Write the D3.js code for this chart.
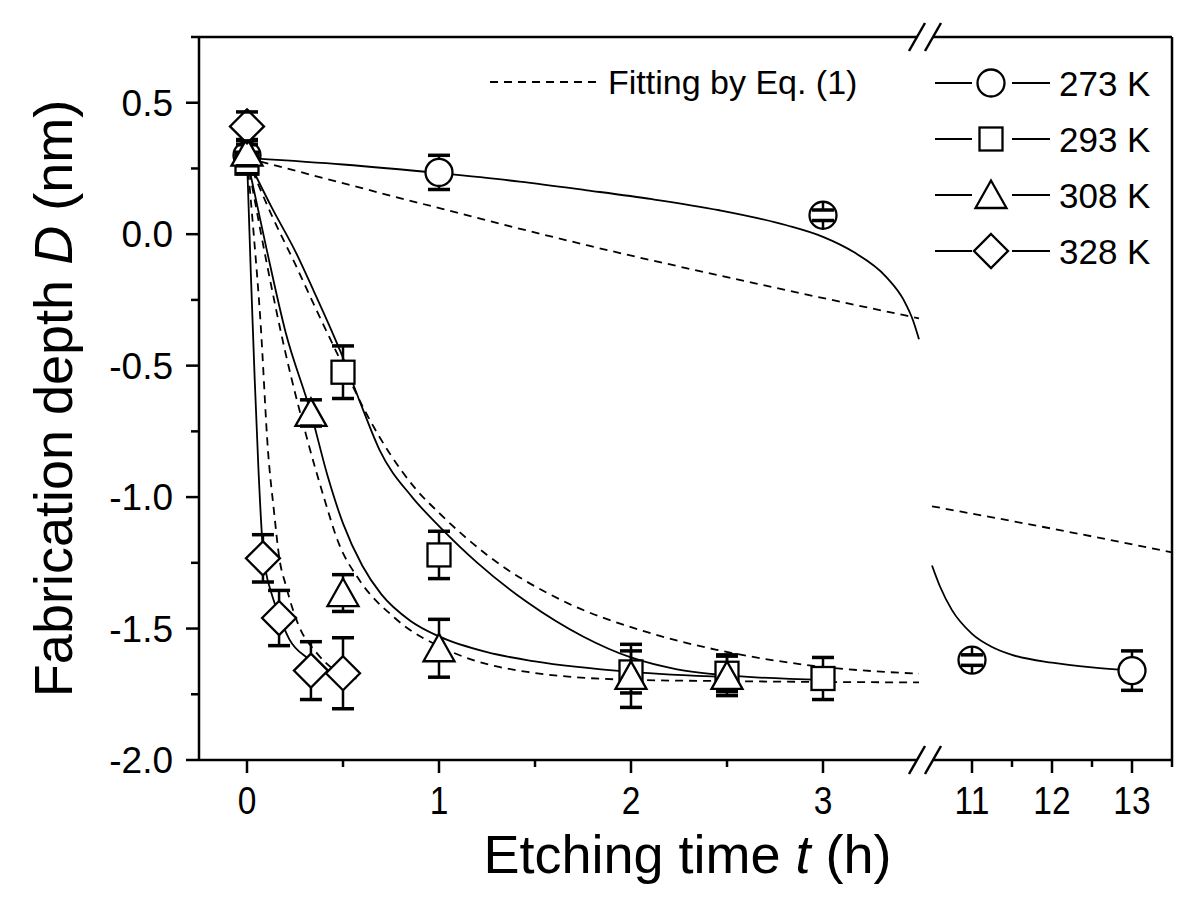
<!DOCTYPE html>
<html>
<head>
<meta charset="utf-8">
<script src="https://d3js.org/d3.v7.min.js"></script>
<style>
    html, body { margin: 0; padding: 0; background: #fff; overflow: hidden; }
    text { font-family: "Liberation Sans", Arial, sans-serif; fill: #000; }
</style>
</head>
<body>
<svg id="chart" width="1200" height="924"></svg>
<script>
// ---- data ----
var temps = ["273 K", "293 K", "308 K", "328 K"];
var symbols = ["circle", "square", "triangle", "diamond"];

var t273 = [0, 1, 3, 11, 13];
var d273 = [0.30, 0.235, 0.072, -1.62, -1.66];
var e273 = [0.04, 0.065, 0.02, 0.02, 0.075];

var t293 = [0, 0.5, 1, 2, 2.5, 3];
var d293 = [0.27, -0.525, -1.22, -1.665, -1.67, -1.69];
var e293 = [0.04, 0.10, 0.09, 0.08, 0.07, 0.08];

var t308 = [0, 0.333, 0.5, 1, 2, 2.5];
var d308 = [0.31, -0.68, -1.365, -1.575, -1.68, -1.68];
var e308 = [0.05, 0.05, 0.07, 0.11, 0.12, 0.075];

var t328 = [0, 0.083, 0.167, 0.333, 0.5];
var d328 = [0.41, -1.233, -1.46, -1.66, -1.67];
var e328 = [0.055, 0.09, 0.105, 0.11, 0.135];

// guide curves (solid) and Eq. (1) fits (dashed), [t, D]
var solid273a = [[0,0.29],[0.5,0.265],[1,0.232],[1.42,0.20],[1.77,0.167],[2.11,0.133],[2.46,0.091],[2.81,0.034],[3.0,-0.01],[3.16,-0.068],[3.33,-0.163],[3.42,-0.25],[3.47,-0.33],[3.5,-0.40]];
var solid273b = [[10.5,-1.26],[10.6,-1.34],[10.75,-1.43],[11,-1.52],[11.25,-1.57],[11.5,-1.60],[12,-1.63],[12.5,-1.648],[13,-1.66]];
var fit273a = [[0,0.29],[0.9,0.118],[1.77,-0.042],[2.64,-0.186],[3.5,-0.32]];
var fit273b = [[10.5,-1.035],[12,-1.12],[13.5,-1.21]];

var solid293 = [[0,0.29],[0.13,0.10],[0.255,-0.07],[0.35,-0.22],[0.43,-0.35],[0.5,-0.47],[0.6,-0.66],[0.69,-0.82],[0.86,-1.0],[1.0,-1.11],[1.2,-1.25],[1.46,-1.40],[1.75,-1.53],[2.0,-1.61],[2.24,-1.655],[2.54,-1.68],[3.0,-1.695]];
var fit293 = [[0,0.29],[0.13,0.07],[0.255,-0.12],[0.35,-0.27],[0.5,-0.50],[0.62,-0.68],[0.74,-0.83],[0.88,-0.97],[1.0,-1.06],[1.25,-1.22],[1.66,-1.40],[2.05,-1.506],[2.44,-1.58],[2.93,-1.64],[3.5,-1.672]];

var solid308 = [[0,0.29],[0.1,-0.05],[0.2,-0.37],[0.333,-0.68],[0.42,-0.92],[0.5,-1.10],[0.6,-1.26],[0.7,-1.37],[0.85,-1.47],[1.0,-1.53],[1.25,-1.59],[1.5,-1.625],[2.0,-1.665],[2.5,-1.685]];
var fit308 = [[0,0.29],[0.1,-0.10],[0.2,-0.45],[0.31,-0.77],[0.4,-1.0],[0.48,-1.18],[0.58,-1.31],[0.77,-1.46],[1.07,-1.59],[1.46,-1.665],[2.0,-1.695],[2.5,-1.70],[3.5,-1.705]];

var solid328 = [[0,0.29],[0.02,-0.15],[0.04,-0.55],[0.06,-0.9],[0.083,-1.2],[0.1,-1.29],[0.125,-1.36],[0.167,-1.45],[0.22,-1.54],[0.32,-1.615],[0.43,-1.665],[0.55,-1.70]];
var fit328 = [[0,0.29],[0.035,0.0],[0.07,-0.33],[0.11,-0.83],[0.14,-1.05],[0.17,-1.24],[0.2,-1.33],[0.27,-1.49],[0.36,-1.59],[0.46,-1.66],[0.57,-1.69]];

var xTicksL = [0, 1, 2, 3];
var xMinorL = [0.5, 1.5, 2.5];
var xTicksR = [11, 12, 13];
var xMinorR = [11.5, 12.5, 13.5];
var yTicks = [-2.0, -1.5, -1.0, -0.5, 0.0, 0.5];
var yMinor = [-1.75, -1.25, -0.75, -0.25, 0.25, 0.75];

// ---- layout ----
var svg = d3.select("#chart");
var pL = 199, pR = 1172, pT = 37, pB = 760;

var xL = d3.scaleLinear().domain([-0.25, 3.5]).range([pL, 919]);
var xR = d3.scaleLinear().domain([10.5, 13.5]).range([932, pR]);
function x(t) { return t < 5 ? xL(t) : xR(t); }
var y = d3.scaleLinear().domain([-2, 0.75]).range([pB, pT]);

var line = d3.line()
    .x(function(d) { return x(d[0]); })
    .y(function(d) { return y(d[1]); })
    .curve(d3.curveMonotoneX);

// curves
var curves = svg.append("g").attr("fill", "none").attr("stroke", "#000").attr("stroke-width", 1.8);
[solid273a, solid273b, solid293, solid308, solid328].forEach(function(c) {
    curves.append("path").attr("d", line(c));
});
[fit273a, fit273b, fit293, fit308, fit328].forEach(function(c) {
    curves.append("path").attr("d", line(c)).attr("stroke-dasharray", "8,6");
});

// markers
var half = { circle: 13.5, square: 11.5, triangle: 13.5, diamond: 17 };
function marker(g, type, cx, cy) {
    var m;
    if (type === "circle") {
        m = g.append("circle").attr("cx", cx).attr("cy", cy).attr("r", 13.5);
    } else if (type === "square") {
        m = g.append("rect").attr("x", cx - 11.5).attr("y", cy - 11.5).attr("width", 23).attr("height", 23);
    } else if (type === "triangle") {
        m = g.append("polygon").attr("points", [[cx, cy - 14.5], [cx - 15.5, cy + 13], [cx + 15.5, cy + 13]].join(" "));
    } else {
        m = g.append("polygon").attr("points", [[cx, cy - 17], [cx + 17, cy], [cx, cy + 17], [cx - 17, cy]].join(" "));
    }
    return m.attr("fill", "#fff").attr("stroke", "#000").attr("stroke-width", 2.3);
}

var series = [
    { t: t273, d: d273, e: e273 },
    { t: t293, d: d293, e: e293 },
    { t: t308, d: d308, e: e308 },
    { t: t328, d: d328, e: e328 }
];

var marks = svg.append("g");
series.forEach(function(s, i) {
    var type = symbols[i];
    s.t.forEach(function(t, j) {
        var cx = x(t), cy = y(s.d[j]);
        marker(marks, type, cx, cy);
        var h = half[type];
        var yt = y(s.d[j] + s.e[j]), yb = y(s.d[j] - s.e[j]);
        var eb = marks.append("g").attr("stroke", "#000");
        eb.append("line").attr("x1", cx).attr("x2", cx).attr("y1", cy - h).attr("y2", yt).attr("stroke-width", 2.5);
        eb.append("line").attr("x1", cx).attr("x2", cx).attr("y1", cy + h).attr("y2", yb).attr("stroke-width", 2.5);
        eb.append("line").attr("x1", cx - 11).attr("x2", cx + 11).attr("y1", yt).attr("y2", yt).attr("stroke-width", 3.5);
        eb.append("line").attr("x1", cx - 11).attr("x2", cx + 11).attr("y1", yb).attr("y2", yb).attr("stroke-width", 3.5);
    });
});

// frame with axis break
var frame = svg.append("g").attr("stroke", "#000").attr("stroke-width", 2.5).attr("fill", "none");
var bx1 = xL(3.5) - 2, bx2 = xR(10.5) + 1;
frame.append("line").attr("x1", pL).attr("x2", pL).attr("y1", pT).attr("y2", pB);
frame.append("line").attr("x1", pR).attr("x2", pR).attr("y1", pT).attr("y2", pB);
[pT, pB].forEach(function(yy) {
    frame.append("line").attr("x1", pL).attr("x2", bx1).attr("y1", yy).attr("y2", yy);
    frame.append("line").attr("x1", bx2).attr("x2", pR).attr("y1", yy).attr("y2", yy);
    [bx1, bx2].forEach(function(bx) {
        frame.append("line").attr("x1", bx - 8).attr("x2", bx + 8).attr("y1", yy + 14).attr("y2", yy - 14);
    });
});

// ticks
var ticks = svg.append("g").attr("stroke", "#000").attr("stroke-width", 2.5);
xTicksL.forEach(function(t) { ticks.append("line").attr("x1", xL(t)).attr("x2", xL(t)).attr("y1", pB).attr("y2", pB + 13); });
xTicksR.forEach(function(t) { ticks.append("line").attr("x1", xR(t)).attr("x2", xR(t)).attr("y1", pB).attr("y2", pB + 13); });
xMinorL.forEach(function(t) { ticks.append("line").attr("x1", xL(t)).attr("x2", xL(t)).attr("y1", pB).attr("y2", pB + 7); });
xMinorR.forEach(function(t) { ticks.append("line").attr("x1", xR(t)).attr("x2", xR(t)).attr("y1", pB).attr("y2", pB + 7); });
yTicks.forEach(function(v) { ticks.append("line").attr("x1", pL - 13).attr("x2", pL).attr("y1", y(v)).attr("y2", y(v)); });
yMinor.forEach(function(v) { ticks.append("line").attr("x1", pL - 8).attr("x2", pL).attr("y1", y(v)).attr("y2", y(v)); });

// tick labels
var labels = svg.append("g");
function xLabel(px, t) {
    labels.append("text")
        .attr("transform", "translate(" + px + ",814) scale(0.86,1)")
        .attr("text-anchor", "middle").attr("font-size", 39).text(t);
}
xTicksL.forEach(function(t) { xLabel(xL(t), t); });
xTicksR.forEach(function(t) { xLabel(xR(t), t); });
yTicks.forEach(function(v) {
    labels.append("text").attr("x", 173).attr("y", y(v) + 13).attr("text-anchor", "end")
        .attr("font-size", 37).text(v.toFixed(1));
});

// axis titles
svg.append("text")
    .attr("transform", "translate(72," + ((pT + pB) / 2) + ") rotate(-90)")
    .attr("text-anchor", "middle").attr("font-size", 54)
    .html('Fabrication depth <tspan font-style="italic">D</tspan> (nm)');
svg.append("text")
    .attr("x", (pL + pR) / 2 + 2).attr("y", 873)
    .attr("text-anchor", "middle").attr("font-size", 54)
    .html('Etching time <tspan font-style="italic">t</tspan> (h)');

// legend
var leg = svg.append("g");
leg.append("line").attr("x1", 490).attr("x2", 596).attr("y1", 82).attr("y2", 82)
    .attr("stroke", "#000").attr("stroke-width", 1.8).attr("stroke-dasharray", "8,6");
leg.append("text").attr("x", 608).attr("y", 94).attr("font-size", 34).text("Fitting by Eq. (1)");

var rowY = [83, 139, 195, 251];
temps.forEach(function(name, i) {
    var ry = rowY[i];
    leg.append("line").attr("x1", 935).attr("x2", 972).attr("y1", ry).attr("y2", ry).attr("stroke", "#000").attr("stroke-width", 2);
    leg.append("line").attr("x1", 1012).attr("x2", 1050).attr("y1", ry).attr("y2", ry).attr("stroke", "#000").attr("stroke-width", 2);
    marker(leg, symbols[i], 991, ry);
    leg.append("text").attr("x", 1059).attr("y", ry + 12.5).attr("font-size", 35).text(name);
});
</script>
</body>
</html>
